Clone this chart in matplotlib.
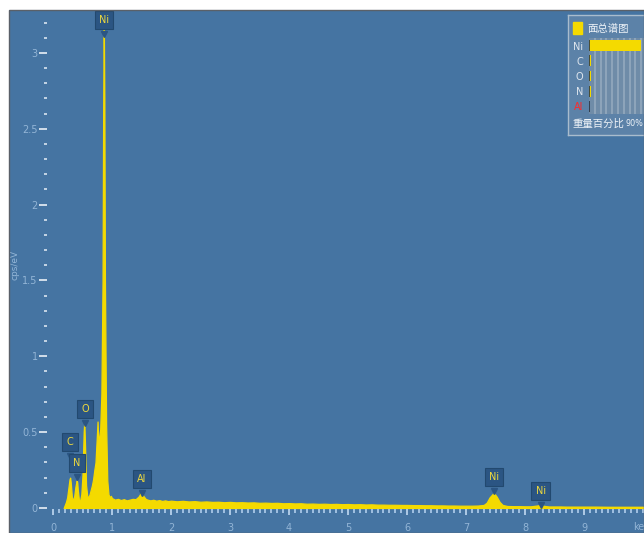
import numpy as np
import matplotlib.pyplot as plt
from matplotlib.patches import Rectangle
from matplotlib.ticker import FixedLocator, FuncFormatter

# EDS spectrum, energy in keV, intensity in cps/eV
energy = [0.18, 0.20, 0.22, 0.24, 0.26, 0.28, 0.29, 0.30, 0.32, 0.34, 0.36, 0.38, 0.40, 0.41,
          0.42, 0.44, 0.46, 0.48, 0.50, 0.52, 0.53, 0.54, 0.56, 0.58, 0.60, 0.62, 0.64, 0.66,
          0.68, 0.70, 0.72, 0.74, 0.755, 0.77, 0.78, 0.80, 0.82, 0.84, 0.85, 0.86, 0.87, 0.88,
          0.90, 0.92, 0.94, 0.96, 0.98,
          1.00, 1.05, 1.10, 1.15, 1.20, 1.25, 1.30, 1.35, 1.40, 1.45, 1.49, 1.53, 1.57, 1.60,
          1.65, 1.70, 1.75, 1.80, 1.85, 1.90, 1.95, 2.00, 2.1, 2.2, 2.3, 2.4, 2.5, 2.6, 2.7,
          2.8, 2.9, 3.0, 3.1, 3.2, 3.3, 3.4, 3.5, 3.6, 3.7, 3.8, 3.9, 4.0, 4.1, 4.2, 4.3, 4.4,
          4.5, 4.6, 4.7, 4.8, 4.9, 5.0, 5.1, 5.2, 5.3, 5.4, 5.5, 5.6, 5.7, 5.8, 5.9, 6.0, 6.1,
          6.2, 6.3, 6.4, 6.5, 6.6, 6.7, 6.8, 6.9, 7.0, 7.1, 7.2, 7.3, 7.35, 7.40, 7.47, 7.52,
          7.57, 7.62, 7.7, 7.8, 7.9, 8.0, 8.1, 8.2, 8.26, 8.32, 8.4, 8.5, 8.6, 8.7, 8.8, 8.9,
          9.0, 9.2, 9.4, 9.6, 9.8, 10.0]
cps = [0.0, 0.02, 0.04, 0.07, 0.13, 0.19, 0.20, 0.17, 0.07, 0.05, 0.08, 0.14, 0.18, 0.17,
       0.12, 0.05, 0.05, 0.09, 0.22, 0.50, 0.57, 0.45, 0.15, 0.08, 0.07, 0.09, 0.12, 0.15,
       0.19, 0.25, 0.30, 0.45, 0.57, 0.42, 0.45, 0.52, 0.75, 1.5, 2.6, 3.25, 2.7, 1.5,
       0.55, 0.18, 0.09, 0.07, 0.08,
       0.065, 0.055, 0.06, 0.052, 0.058, 0.05, 0.055, 0.06, 0.058, 0.075, 0.10, 0.08, 0.06, 0.055,
       0.05, 0.054, 0.048, 0.052, 0.046, 0.05, 0.045, 0.048, 0.044, 0.047, 0.043, 0.045, 0.041,
       0.043, 0.04, 0.041, 0.038, 0.04, 0.037, 0.038, 0.036, 0.037, 0.034, 0.035, 0.033,
       0.034, 0.031, 0.032, 0.03, 0.031, 0.028, 0.029, 0.027, 0.028, 0.026, 0.027, 0.025,
       0.026, 0.024, 0.025, 0.023, 0.024, 0.022, 0.022, 0.021, 0.021, 0.02, 0.02, 0.019,
       0.019, 0.018, 0.018, 0.017, 0.017, 0.016, 0.016, 0.015, 0.015, 0.015, 0.016, 0.02,
       0.035, 0.07, 0.10, 0.075, 0.04, 0.02, 0.013, 0.012, 0.012, 0.011, 0.011, 0.016, 0.02,
       0.014, 0.01, 0.01, 0.01, 0.009, 0.009, 0.009, 0.009, 0.009, 0.008, 0.008, 0.008, 0.008]

# peak labels: element, energy of the box centre, height of the box centre
peak_names = ["C", "N", "O", "Ni", "Al", "Ni", "Ni"]
peak_x = [0.288, 0.407, 0.542, 0.864, 1.508, 7.475, 8.27]
peak_y = [0.435, 0.297, 0.653, 3.217, 0.191, 0.204, 0.112]

# weight percent panel
elements = ["Ni", "C", "O", "N", "Al"]
wt_pct = [89.5, 3.8, 3.5, 2.9, 0.3]
elem_colors = ["#dfe6ee", "#dfe6ee", "#dfe6ee", "#dfe6ee", "#ff2a2a"]

BG = "#4574a2"
YEL = "#f4da00"
TXT = "#93b5d6"
W, H = 644, 533


def px_rect(x0, y0, x1, y1):
    return [x0 / W, 1 - y1 / H, (x1 - x0) / W, (y1 - y0) / H]


fig = plt.figure(figsize=(W / 100, H / 100), dpi=100)
fig.patch.set_facecolor("white")

ax = fig.add_axes(px_rect(9, 10, 644, 533))
ax.set_facecolor(BG)
ax.set_xlim(-0.746, 10.017)
ax.set_ylim(-0.165, 3.283)

ax.fill_between(energy, cps, 0, color=YEL, linewidth=0.9, edgecolor=YEL)

# axes look
ax.spines["top"].set_visible(False)
ax.spines["right"].set_visible(False)
ax.spines["left"].set_position(("data", -0.10))
ax.spines["bottom"].set_position(("data", -0.007))
ax.spines["left"].set_linewidth(0)
ax.spines["bottom"].set_linewidth(0)

ax.set_xticks(range(0, 10))
ax.xaxis.set_minor_locator(FixedLocator(np.arange(0, 10.05, 0.1)))
ax.set_yticks([0, 0.5, 1, 1.5, 2, 2.5, 3])
ax.yaxis.set_minor_locator(FixedLocator(np.arange(0, 3.25, 0.1)))
ax.yaxis.set_major_formatter(FuncFormatter(lambda v, p: "%g" % v))

ax.tick_params(axis="y", which="major", length=5.8, width=1.4, color="#d2deea",
               labelcolor=TXT, labelsize=7, pad=1)
ax.tick_params(axis="y", which="minor", length=2.2, width=1.4, color="#c4d4e4")
ax.tick_params(axis="x", which="major", length=4.5, width=1.3, color="#b8d2ec",
               labelcolor=TXT, labelsize=7, pad=5.5)
ax.tick_params(axis="x", which="minor", length=2.6, width=1.3, color="#a8c6e6")

ax.text(-0.644, 1.6, "cps/eV", rotation=90, color=TXT, fontsize=6.5,
        ha="center", va="center")
ax.text(9.84, -0.128, "keV", color=TXT, fontsize=7, ha="left", va="center")

# peak labels
for name, x, y in zip(peak_names, peak_x, peak_y):
    ax.text(x, y, name, ha="center", va="center", fontsize=7, color="#ecd83e",
            bbox=dict(boxstyle="square,pad=0.45", fc="#2b5583", ec="#22496f", lw=0.8),
            zorder=5)
    ax.plot(x, y - 0.09, marker="v", markersize=5, color="#2b5583", zorder=4)

# thin frame line around the blue area
fig.patches.append(Rectangle((9 / W, 0), 635 / W, 523 / H, transform=fig.transFigure,
                             fill=False, ec="#5a6068", lw=1.0))

# weight percent panel (cut off at the right edge, like the screenshot)
panel = fig.add_axes(px_rect(568, 15, 720, 135))
panel.set_xlim(568, 720)
panel.set_ylim(135, 15)
panel.set_facecolor("#5c82a8")
for s in panel.spines.values():
    s.set_color("#a9bccd")
    s.set_linewidth(1)
panel.set_xticks([])
panel.set_yticks([])
panel.add_patch(Rectangle((573, 22), 9, 12, color=YEL))
panel.text(587, 28.5, "面总谱图", fontsize=7.5, color="#eef3f8", va="center",
           family=["Noto Sans CJK SC", "DejaVu Sans"])
panel.text(572, 124, "重量百分比", fontsize=7.5, color="#eef3f8", va="center",
           family=["Noto Sans CJK SC", "DejaVu Sans"])
panel.text(626, 124, "90%", fontsize=5.8, color="#eef3f8", va="center")

bars = fig.add_axes(px_rect(589, 38, 644, 114))
bars.set_facecolor("#6f8ca8")
bars.set_xlim(0, 95)
bars.set_ylim(len(elements) - 0.5, -0.5)
rows = np.arange(len(elements))
bars.barh(rows, wt_pct, height=0.72, color=YEL, zorder=3)
bars.vlines([0.6] * len(rows), rows - 0.36, rows + 0.36, color="#2a3340", lw=1.2, zorder=4)
bars.set_xticks(np.arange(10, 100, 10))
bars.grid(axis="x", color="#91a7bd", lw=1.3)
bars.set_axisbelow(True)
bars.set_yticks(rows)
bars.set_yticklabels(elements, fontsize=7)
for lab, c in zip(bars.get_yticklabels(), elem_colors):
    lab.set_color(c)
bars.tick_params(axis="y", length=0, pad=4)
bars.tick_params(axis="x", length=0, labelbottom=False)
for s in bars.spines.values():
    s.set_visible(False)

fig.savefig("out.png", dpi=100)
